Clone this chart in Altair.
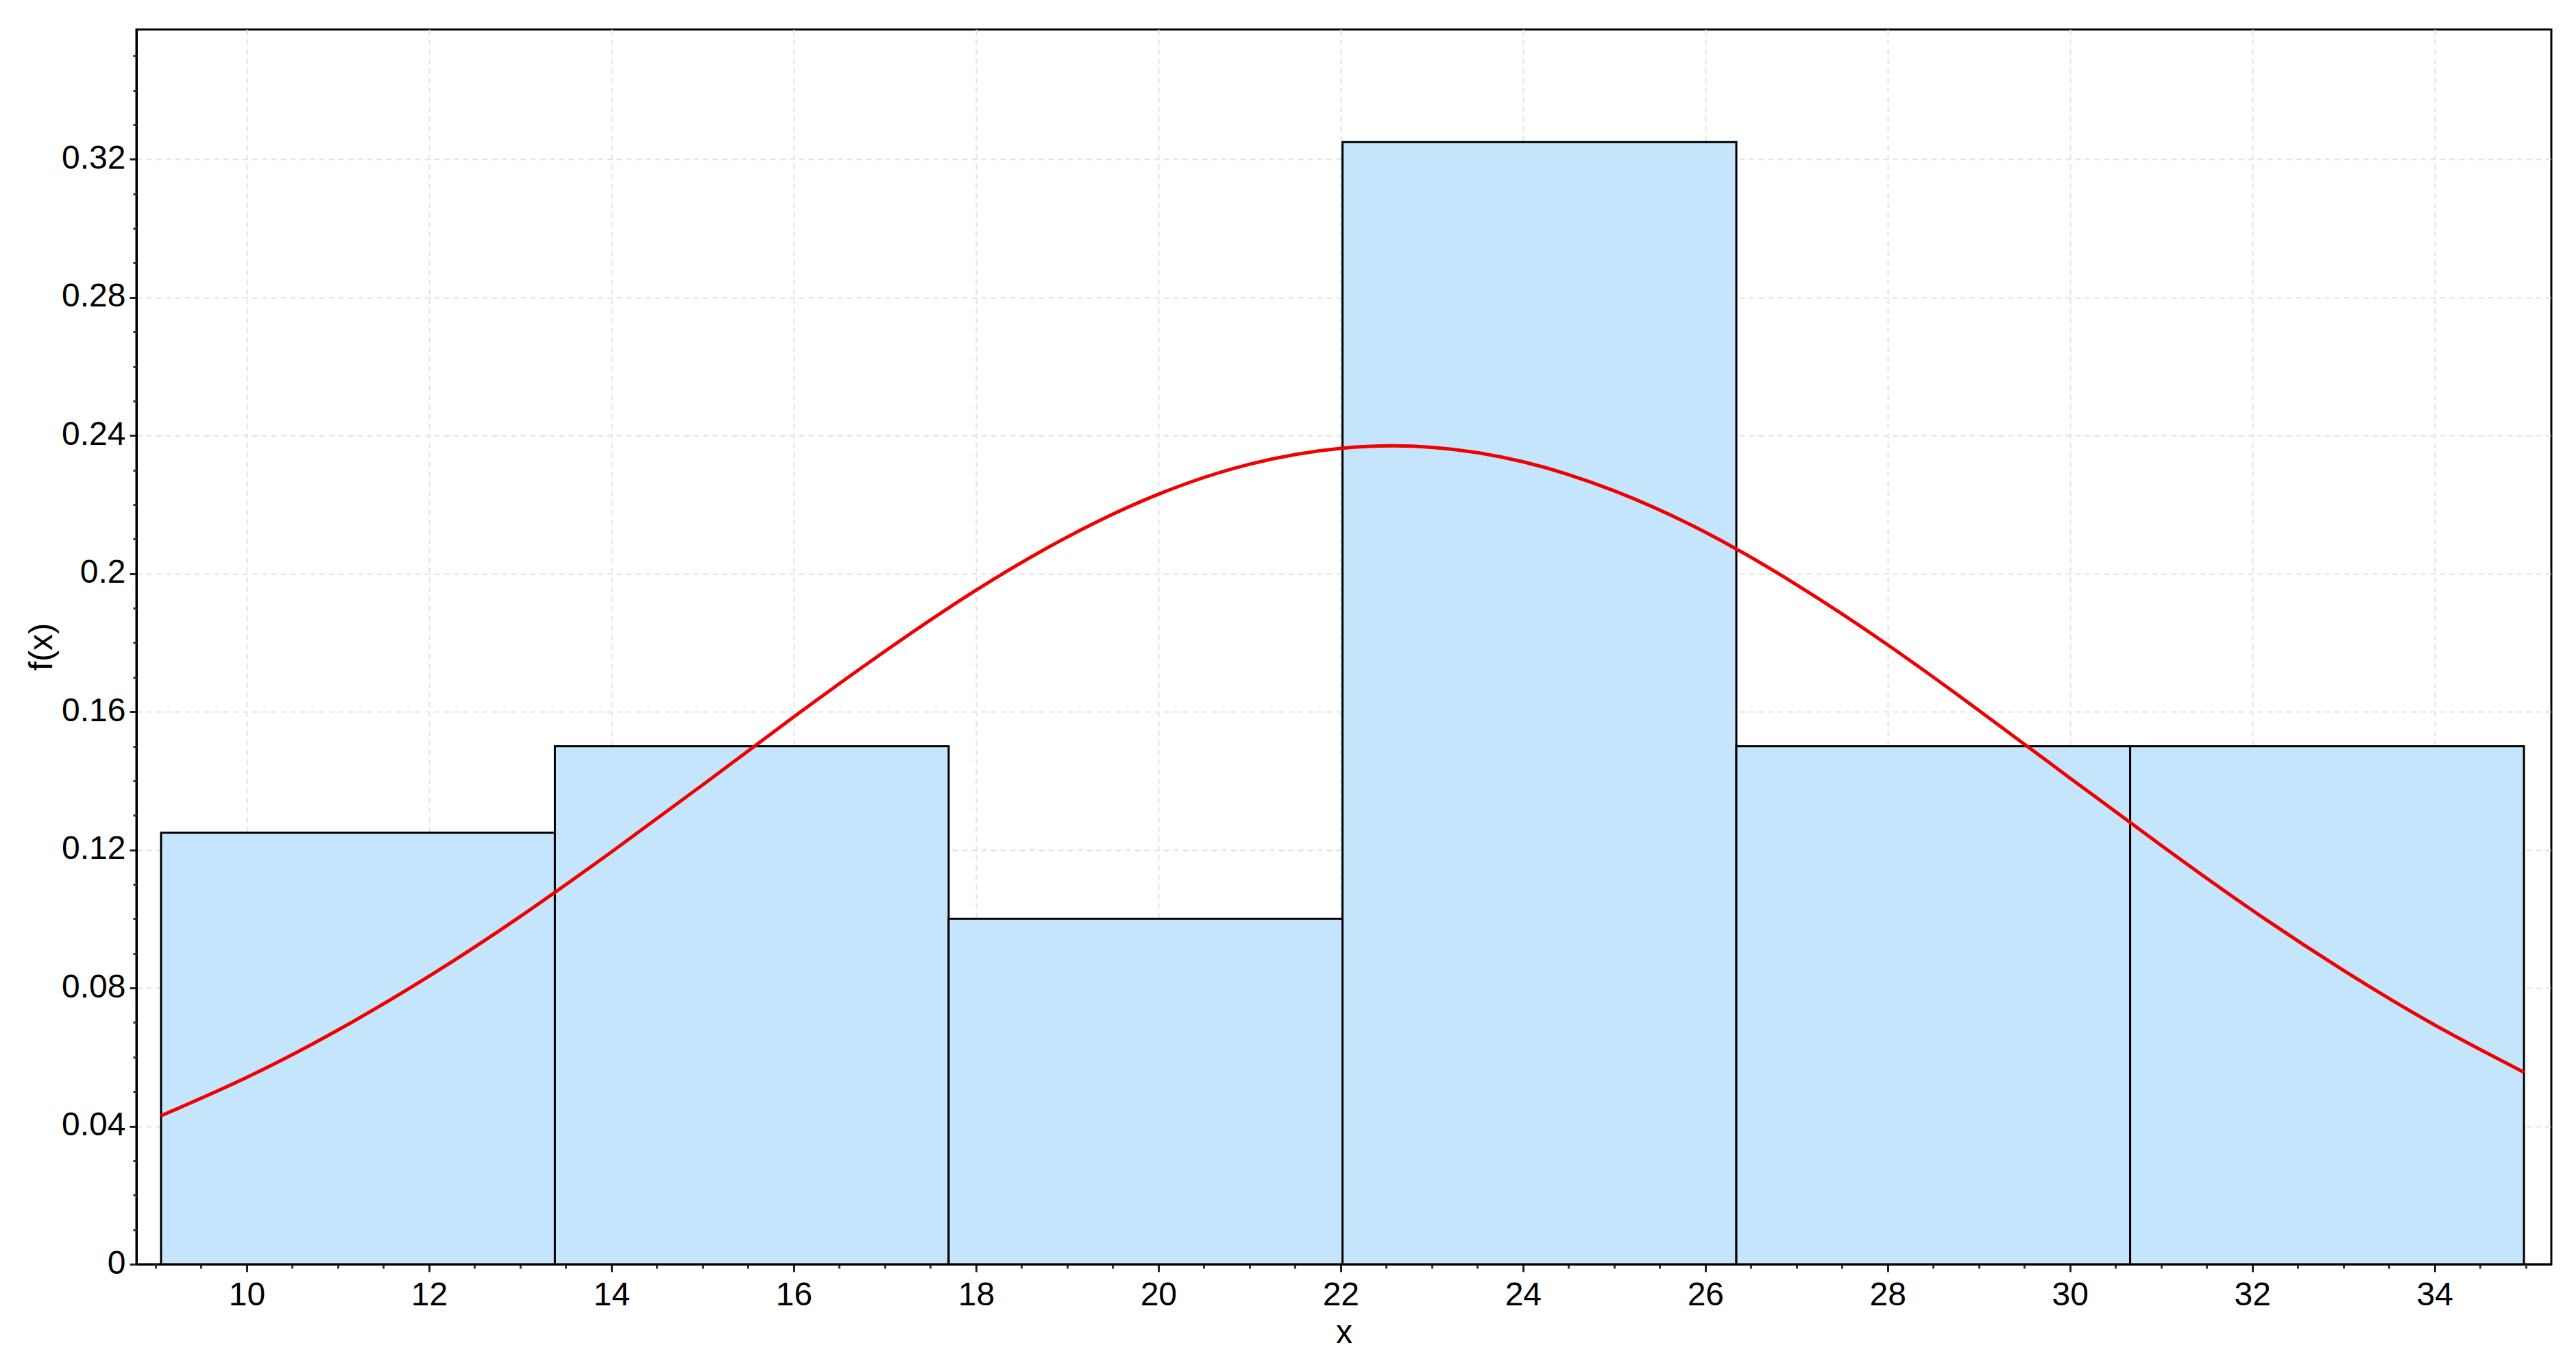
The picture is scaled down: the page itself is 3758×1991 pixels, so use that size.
import altair as alt
import pandas as pd

# Histogram bins (relative frequencies)
bin_start = [9.06, 13.38, 17.70, 22.02, 26.34, 30.66]
bin_end = [13.38, 17.70, 22.02, 26.34, 30.66, 34.98]
freq = [0.125, 0.15, 0.10, 0.325, 0.15, 0.15]

# Fitted curve
curve_x = [9.06, 10, 11, 12, 13, 14, 15, 16, 17, 18, 19, 20, 21, 22,
           23, 24, 25, 26, 27, 28, 29, 30, 31, 32, 33, 34, 34.98]
curve_y = [0.0430, 0.0541, 0.0678, 0.0834, 0.1007, 0.1194, 0.1388, 0.1585,
           0.1775, 0.1952, 0.2106, 0.2230, 0.2317, 0.2363, 0.2366, 0.2324,
           0.2240, 0.2120, 0.1968, 0.1794, 0.1604, 0.1408, 0.1213, 0.1025,
           0.0851, 0.0693, 0.0556]

# Tick values
x_major = [10, 12, 14, 16, 18, 20, 22, 24, 26, 28, 30, 32, 34]
x_minor = [9.0, 9.5, 10.5, 11.0, 11.5, 12.5, 13.0, 13.5, 14.5, 15.0, 15.5,
           16.5, 17.0, 17.5, 18.5, 19.0, 19.5, 20.5, 21.0, 21.5, 22.5, 23.0,
           23.5, 24.5, 25.0, 25.5, 26.5, 27.0, 27.5, 28.5, 29.0, 29.5, 30.5,
           31.0, 31.5, 32.5, 33.0, 33.5, 34.5, 35.0]
y_major = [0, 0.04, 0.08, 0.12, 0.16, 0.2, 0.24, 0.28, 0.32]
y_minor = [0.01, 0.02, 0.03, 0.05, 0.06, 0.07, 0.09, 0.10, 0.11, 0.13, 0.14,
           0.15, 0.17, 0.18, 0.19, 0.21, 0.22, 0.23, 0.25, 0.26, 0.27, 0.29,
           0.30, 0.31, 0.33, 0.34, 0.35]

bars_df = pd.DataFrame({"start": bin_start, "end": bin_end, "freq": freq})
curve_df = pd.DataFrame({"cx": curve_x, "cy": curve_y})

FONT = "Liberation Sans"
xscale = alt.Scale(domain=[8.79, 35.28], nice=False, zero=False)
yscale = alt.Scale(domain=[0, 0.3576], nice=False, zero=False)

major_x_axis = alt.Axis(
    values=x_major, title="x", grid=True, gridColor="#e2e2e2", gridDash=[8, 6],
    gridWidth=2, tickSize=11, tickWidth=3, tickColor="#222",
    labelFont=FONT, labelFontSize=48, labelColor="black",
    labelBaseline="alphabetic", labelPadding=48, labelOverlap=False,
    labelFlush=False,
    domain=True, domainColor="black", domainWidth=3,
    titleFont=FONT, titleFontSize=48, titleFontWeight="normal",
    titleColor="black", titleBaseline="alphabetic", titleY=114, orient="bottom",
)
major_y_axis = alt.Axis(
    values=y_major, title="f(x)", format="~g", grid=True, gridColor="#e2e2e2",
    gridDash=[8, 6], gridWidth=2, tickSize=10, tickWidth=3, tickColor="#222",
    labelFont=FONT, labelFontSize=48, labelColor="black",
    labelBaseline="alphabetic", labelOffset=13, labelPadding=6,
    labelOverlap=False, labelFlush=False,
    domain=True, domainColor="black", domainWidth=3,
    titleFont=FONT, titleFontSize=48, titleFontWeight="normal",
    titleColor="black", titleBaseline="alphabetic", titleX=-124, titleY=900,
    titleAlign="center", titleAngle=270, orient="left",
)
minor_x_axis = alt.Axis(
    values=x_minor, title=None, labels=False, grid=False, domain=False,
    tickSize=6, tickWidth=3, tickColor="#333", orient="bottom",
)
minor_y_axis = alt.Axis(
    values=y_minor, title=None, labels=False, grid=False, domain=False,
    tickSize=5, tickWidth=3, tickColor="#333", orient="left",
)

bars = alt.Chart(bars_df).mark_rect(
    fill="#C4E5FB", stroke="black", strokeWidth=3
).encode(
    x=alt.X("start:Q", scale=xscale, axis=major_x_axis),
    x2="end:Q",
    y=alt.Y("freq:Q", scale=yscale, axis=major_y_axis),
    y2=alt.datum(0),
)

curve = alt.Chart(curve_df).mark_line(
    color="#F00000", strokeWidth=5, interpolate="natural"
).encode(
    x=alt.X("cx:Q", scale=xscale, axis=minor_x_axis),
    y=alt.Y("cy:Q", scale=yscale, axis=minor_y_axis),
)

chart = alt.layer(bars, curve).resolve_axis(
    x="independent", y="independent"
).properties(
    width=3523, height=1801,
    padding={"left": 191, "top": 35, "right": 20, "bottom": 140},
    autosize=alt.AutoSizeParams(type="none"),
    background="white",
).configure_view(
    stroke="black", strokeWidth=3
)

chart.save("out.html", embed_options={"renderer": "svg", "actions": False})
